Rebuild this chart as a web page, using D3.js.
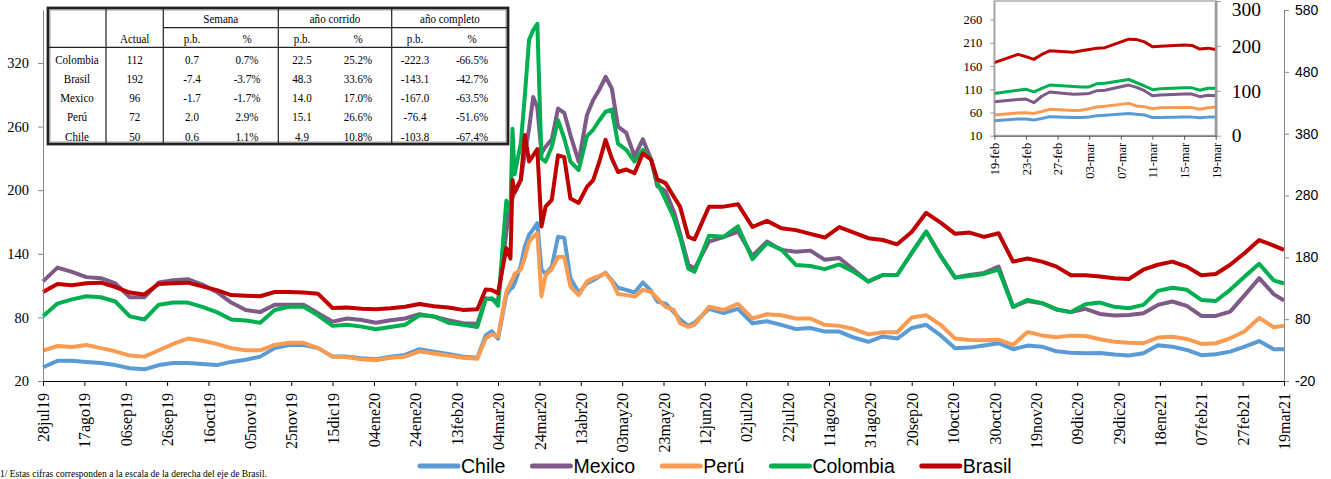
<!DOCTYPE html>
<html>
<head>
<meta charset="utf-8">
<script src="https://cdn.jsdelivr.net/npm/d3@7"></script>
<style>
  body { margin: 0; background: #fff; }
  svg { display: block; }
</style>
</head>
<body>
<svg id="chart" width="1331" height="479"></svg>
<script>
// ---- main chart data (bps), dates ----
const dates = [
  "2019-07-28","2019-08-04","2019-08-11","2019-08-18","2019-08-25","2019-09-01","2019-09-08","2019-09-15",
  "2019-09-22","2019-09-29","2019-10-06","2019-10-13","2019-10-20","2019-10-27","2019-11-03","2019-11-10",
  "2019-11-17","2019-11-24","2019-12-01","2019-12-08","2019-12-15","2019-12-22",
  "2019-12-29","2020-01-05","2020-01-12","2020-01-19","2020-01-26","2020-02-02","2020-02-09","2020-02-16","2020-02-23",
  "2020-02-27","2020-03-01","2020-03-04","2020-03-08","2020-03-10","2020-03-11","2020-03-12","2020-03-15",
  "2020-03-17","2020-03-19","2020-03-21","2020-03-23","2020-03-25","2020-03-27","2020-03-30","2020-04-02",
  "2020-04-05","2020-04-08","2020-04-12","2020-04-16","2020-04-19","2020-04-22","2020-04-25","2020-04-28",
  "2020-05-01","2020-05-05","2020-05-09","2020-05-13","2020-05-17","2020-05-20","2020-05-24","2020-05-28",
  "2020-05-31","2020-06-04","2020-06-07",
  "2020-06-14","2020-06-21","2020-06-28","2020-07-05","2020-07-12","2020-07-19","2020-07-26","2020-08-02",
  "2020-08-09","2020-08-16","2020-08-23","2020-08-30","2020-09-06","2020-09-13","2020-09-20","2020-09-27",
  "2020-10-04","2020-10-11","2020-10-18","2020-10-25","2020-11-01","2020-11-08","2020-11-15","2020-11-22",
  "2020-11-29","2020-12-06","2020-12-13","2020-12-20","2020-12-27","2021-01-03","2021-01-10","2021-01-17",
  "2021-01-24","2021-01-31","2021-02-07","2021-02-14","2021-02-21","2021-02-28","2021-03-07","2021-03-14",
  "2021-03-19"
];

const chile = [
  33, 39, 39, 38, 37, 35, 32, 31, 35, 37, 37, 36, 35, 38, 40, 43, 51, 54, 54, 51, 43, 43,
  41.4, 40.5, 43, 44.6, 50, 47.7, 45.5, 43, 42,
  63, 67, 60, 101, 107, 108, 112, 129, 147, 158, 163, 169, 125, 121, 128, 156, 155, 117, 103.5, 112,
  115, 118.5, 122, 115, 108, 106, 103.5, 113, 105, 95, 93, 85, 78, 72, 75,
  88, 84, 88, 74.5, 76.4, 73, 69, 70, 66.6, 66.6, 61, 57, 62, 60, 70, 73, 63, 51, 51.5, 53.4,
  55.6, 50, 53.4, 52.4, 48, 46.7, 46.2, 46.5, 45, 44, 46.2, 53.7, 52.4, 49.3, 44.3, 45.2, 47.7, 52.4, 57.7, 50,
  50
];
const mexico = [
  114, 127, 123, 118, 117, 112, 99, 99, 113, 115, 116, 111, 104, 94, 87, 85, 92, 92, 92, 84, 76, 79,
  77.6, 75, 77.3, 79, 83, 80.7, 77.3, 74.5, 74,
  98, 97, 95, 160, 188, 193, 198, 210, 235, 258, 288, 278, 235, 241, 248, 277, 273, 252, 227, 271,
  285, 295, 307, 296, 260, 254, 232, 248, 229, 204, 199, 180, 159, 130, 126,
  151.5, 155.7, 161, 138, 151.5, 143.7, 142, 143, 134.3, 136, 124.8, 113.8, 120, 120, 140.6, 161, 138, 117.6, 120, 122,
  128, 90, 95.5, 93.4, 87.5, 85, 88, 83.3, 81.7, 82.3, 84, 91.8, 95, 90.8, 81.4, 81.4, 85.4, 101, 117, 102,
  96
];
const peru = [
  48.6, 53, 52, 54, 51, 48, 44, 43, 49, 55, 60, 58, 55, 51, 49, 49, 54, 56, 56, 51, 43, 42.5,
  40.5, 39.5, 42, 43, 48, 46, 44, 42, 41,
  60, 64, 62, 104, 112, 116, 121, 125, 137, 151, 156, 159.5, 100, 120, 125.5, 137, 137, 109, 101, 114,
  117, 119, 122, 114, 102, 101, 99.6, 106, 104, 98, 90, 87, 74.5, 71, 73,
  90, 87, 92.7, 79, 83, 82, 79, 79, 73, 72, 69, 64, 66, 66, 80, 82, 73, 60, 58.7, 58.4,
  59, 54, 66.3, 63, 61.3, 62.8, 62.5, 59.4, 57, 56, 55.6, 61, 61.8, 59.7, 55, 55.6, 60.3, 67, 79.5, 70.7,
  72
];
const colombia = [
  81, 93, 97, 100, 99, 95, 81, 78, 92, 94, 94, 90, 85, 78, 77, 75, 87, 90, 90, 82, 72, 73,
  71.3, 68.8, 71, 73, 82, 81, 75, 73, 71,
  97, 98, 91, 190, 180, 258, 215, 244, 290, 342, 351, 357, 230, 227, 241, 266, 249, 227, 219, 251,
  257, 266, 274, 276, 244, 238, 227, 238, 229, 207, 191, 174, 156, 126, 123,
  157, 156, 166, 135, 150, 144, 129.5, 128.5, 125.5, 130, 123, 114, 120, 120, 141, 161, 138, 117.6, 119, 121,
  125, 90, 96.5, 93.4, 87.5, 85, 92.5, 94, 90, 88.7, 91.8, 105, 108, 106, 96.5, 95.5, 106, 118.5, 130.5, 115,
  112
];
// Brasil is read on the right-hand axis
const brasil = [
  124, 137, 135, 138, 139, 132, 123, 120, 137, 138, 139, 133, 127, 119, 118, 117, 124, 124, 123, 121, 98, 99,
  97, 96, 97.6, 100, 104.5, 101, 99, 95, 96,
  128, 127, 122, 195, 178, 305, 285, 305, 378, 335, 345, 355, 230, 262, 273, 345, 342, 275, 268, 294,
  305, 335, 370, 340, 318, 322, 316, 348, 338, 306, 300, 278, 262, 213, 209,
  262, 262, 266, 229, 239, 227, 224, 218, 212, 229, 220, 211, 208, 201, 221, 252, 236, 218, 220, 213,
  219, 173, 178, 173, 165, 151, 151, 149, 146, 145, 160, 168, 173, 165, 151, 153, 168, 187, 208, 199,
  192
];

const xLabels = ["28jul19","17ago19","06sep19","26sep19","16oct19","05nov19","25nov19","15dic19","04ene20",
  "24ene20","13feb20","04mar20","24mar20","13abr20","03may20","23may20","12jun20","02jul20","22jul20",
  "11ago20","31ago20","20sep20","10oct20","30oct20","19nov20","09dic20","29dic20","18ene21","07feb21",
  "27feb21","19mar21"];
const leftTicks = [20, 80, 140, 200, 260, 320];
const rightTicks = [-20, 80, 180, 280, 380, 480, 580];

// ---- inset (last month) ----
const insetDates = ["2021-02-19","2021-02-22","2021-02-23","2021-02-24","2021-02-25","2021-02-26",
  "2021-03-01","2021-03-02","2021-03-03","2021-03-04","2021-03-05","2021-03-08","2021-03-09","2021-03-10",
  "2021-03-11","2021-03-12","2021-03-15","2021-03-16","2021-03-17","2021-03-18","2021-03-19"];
const insetChile = [42, 46, 46, 44, 47, 51, 49, 49, 50.5, 53, 54, 58, 56, 54.5, 49, 49.4, 50, 50, 48.5, 50, 50];
const insetMexico = [83, 88, 89, 81, 95, 104, 99, 100, 101, 107, 108, 119, 114, 107, 96, 97.7, 100, 99.6, 94, 97, 96];
const insetPeru = [54.5, 59, 59.5, 58, 62, 66.7, 64, 65, 68, 72, 73.5, 79.6, 74, 72.3, 68, 70, 70.5, 70.5, 67, 70, 72];
const insetColombia = [101, 108, 110, 104.5, 112, 119, 116, 115, 115, 122, 123, 131, 124, 117, 109, 111.3, 113, 113, 108, 112, 112];
const insetBrasil = [162.6, 181, 176, 170, 181, 189, 186, 189, 192, 195, 196, 215, 214, 209, 198, 199.4, 202, 201, 193, 195, 192];
const insetXLabels = ["19-feb","23-feb","27-feb","03-mar","07-mar","11-mar","15-mar","19-mar"];
const insetLeftTicks = [10, 60, 110, 160, 210, 260];
const insetRightTicks = [0, 100, 200, 300];

// ---- table ----
const tableCountries = ["Colombia", "Brasil", "Mexico", "Perú", "Chile"];
const tableActual = [112, 192, 96, 72, 50];
const semanaPb = [0.7, -7.4, -1.7, 2.0, 0.6];
const semanaPct = [0.7, -3.7, -1.7, 2.9, 1.1];
const corridoPb = [22.5, 48.3, 14.0, 15.1, 4.9];
const corridoPct = [25.2, 33.6, 17.0, 26.6, 10.8];
const completoPb = [-222.3, -143.1, -167.0, -76.4, -103.8];
const completoPct = [-66.5, -42.7, -63.5, -51.6, -67.4];

const seriesNames = ["Chile", "Mexico", "Perú", "Colombia", "Brasil"];
const seriesColors = ["#5b9bd5", "#7d5a87", "#fa9b52", "#00b050", "#c00000"];

const serif = "'Liberation Serif', 'Times New Roman', serif";
const sans = "'Liberation Sans', Arial, sans-serif";

const parse = d3.timeParse("%Y-%m-%d");
const meses = {ene: 0, feb: 1, mar: 2, abr: 3, may: 4, jun: 5, jul: 6, ago: 7, sep: 8, oct: 9, nov: 10, dic: 11};
// "28jul19" -> date
const parseLabel = (s) => {
  const m = s.match(/^(\d\d)([a-z]+)(\d\d)$/);
  return new Date(2000 + (+m[3]), meses[m[2]], +m[1]);
};
// "19-feb" -> date (2021)
const parseInsetLabel = (s) => {
  const m = s.match(/^(\d\d)-([a-z]+)$/);
  return new Date(2021, meses[m[2]], +m[1]);
};
// plain hyphen for negatives, like the source
const plain = d => String(d);

const svg = d3.select("#chart");

// ---- main scales ----
const x = d3.scaleTime().domain([parse(dates[0]), parse(dates[dates.length - 1])]).range([43, 1284]);
const yL = d3.scaleLinear().domain([20, 370]).range([381, 10]);
const yR = d3.scaleLinear().domain([-20, 580]).range([381, 10]);

const mainValues = [chile, mexico, peru, colombia, brasil];
const parsedDates = dates.map(parse);

// lines (Chile drawn first, Brasil last/on top)
mainValues.forEach((vals, i) => {
  const yScale = seriesNames[i] === "Brasil" ? yR : yL;
  const line = d3.line()
    .x((d, j) => x(parsedDates[j]))
    .y(d => yScale(d));
  svg.append("path")
    .datum(vals)
    .attr("fill", "none")
    .attr("stroke", seriesColors[i])
    .attr("stroke-width", 4)
    .attr("stroke-linejoin", "round")
    .attr("d", line);
});

// left axis
const gL = svg.append("g").attr("transform", "translate(43,0)")
  .call(d3.axisLeft(yL).tickValues(leftTicks).tickFormat(plain).tickSizeInner(5).tickSizeOuter(0).tickPadding(9));
gL.select(".domain").attr("stroke", "#888");
gL.selectAll(".tick line").attr("stroke", "#888");
gL.selectAll("text").attr("font-family", serif).attr("font-size", 14.5).attr("fill", "#000");

// right axis (Brasil)
const gR = svg.append("g").attr("transform", "translate(1284,0)")
  .call(d3.axisRight(yR).tickValues(rightTicks).tickFormat(plain).tickSizeInner(5).tickSizeOuter(0).tickPadding(6));
gR.select(".domain").attr("stroke", "#888");
gR.selectAll(".tick line").attr("stroke", "#888");
gR.selectAll("text").attr("font-family", sans).attr("font-size", 14).attr("fill", "#000");

// bottom axis
const tickDates = xLabels.map(parseLabel);
const gB = svg.append("g").attr("transform", "translate(0,381)")
  .call(d3.axisBottom(x).tickValues(tickDates).tickFormat((d, i) => xLabels[i]).tickSizeInner(5).tickSizeOuter(0));
gB.select(".domain").attr("stroke", "#000");
gB.selectAll(".tick line").attr("stroke", "#000");
gB.selectAll("text")
  .attr("font-family", serif)
  .attr("font-size", 16)
  .attr("fill", "#000")
  .attr("transform", "rotate(-90)")
  .attr("text-anchor", "end")
  .attr("x", -12)
  .attr("y", 0)
  .attr("dy", "0.35em");

// ---- legend ----
const legend = svg.append("g").attr("font-family", sans).attr("font-size", 19.5);
let lx = 420;
seriesNames.forEach((name, i) => {
  legend.append("line")
    .attr("x1", lx).attr("x2", lx + 38)
    .attr("y1", 466).attr("y2", 466)
    .attr("stroke", seriesColors[i]).attr("stroke-width", 5).attr("stroke-linecap", "round");
  const t = legend.append("text")
    .attr("x", lx + 41).attr("y", 466).attr("dy", "0.35em")
    .attr("fill", "#000")
    .text(name);
  lx += 41 + t.node().getComputedTextLength() + 27;
});

// footnote at the very bottom
svg.append("text")
  .attr("x", 0).attr("y", 476.5)
  .attr("font-family", serif).attr("font-size", 9.5)
  .text("1/ Estas cifras corresponden a la escala de la derecha del eje de Brasil.");

// ---- inset ----
const inset = svg.append("g");
inset.append("rect").attr("x", 952).attr("y", 0).attr("width", 318).attr("height", 186).attr("fill", "#fff");

const ix = d3.scaleTime().domain([parse(insetDates[0]), parse(insetDates[insetDates.length - 1])]).range([994.3, 1215.7]);
const iyL = d3.scaleLinear().domain([10, 300]).range([135.7, 1]);
const iyR = d3.scaleLinear().domain([0, 300]).range([135.7, 1]);
const insetParsed = insetDates.map(parse);
const insetValues = [insetChile, insetMexico, insetPeru, insetColombia, insetBrasil];

inset.append("rect")
  .attr("x", 994.3).attr("y", 1).attr("width", 221.4).attr("height", 134.7)
  .attr("fill", "none").attr("stroke", "#c0c0c0").attr("stroke-width", 2);

insetValues.forEach((vals, i) => {
  const yScale = seriesNames[i] === "Brasil" ? iyR : iyL;
  inset.append("path")
    .datum(vals)
    .attr("fill", "none")
    .attr("stroke", seriesColors[i])
    .attr("stroke-width", 3)
    .attr("stroke-linejoin", "round")
    .attr("d", d3.line().x((d, j) => ix(insetParsed[j])).y(d => yScale(d)));
});

const igL = inset.append("g").attr("transform", "translate(994.3,0)")
  .call(d3.axisLeft(iyL).tickValues(insetLeftTicks).tickFormat(plain).tickSizeInner(4).tickSizeOuter(0).tickPadding(8));
igL.select(".domain").attr("stroke", "#999");
igL.selectAll(".tick line").attr("stroke", "#999");
igL.selectAll("text").attr("font-family", serif).attr("font-size", 12.5).attr("fill", "#000");

const igR = inset.append("g").attr("transform", "translate(1215.7,0)")
  .call(d3.axisRight(iyR).tickValues(insetRightTicks).tickFormat(plain).tickSizeInner(5).tickSizeOuter(0).tickPadding(11));
igR.select(".domain").attr("stroke", "#999").attr("stroke-width", 2.5);
igR.selectAll(".tick line").attr("stroke", "#999");
igR.selectAll("text").attr("font-family", serif).attr("font-size", 19.5).attr("fill", "#000");
// the top label sits at the frame edge; nudge it inside
igR.selectAll("text").filter(d => d === 300).attr("dy", "0.75em");

const igB = inset.append("g").attr("transform", "translate(0,135.7)")
  .call(d3.axisBottom(ix).tickValues(insetXLabels.map(parseInsetLabel))
    .tickFormat((d, i) => insetXLabels[i]).tickSizeInner(4).tickSizeOuter(0));
igB.select(".domain").attr("stroke", "#555");
igB.selectAll(".tick line").attr("stroke", "#555");
igB.selectAll("text")
  .attr("font-family", serif)
  .attr("font-size", 12.5)
  .attr("fill", "#000")
  .attr("transform", "rotate(-90)")
  .attr("text-anchor", "end")
  .attr("x", -7)
  .attr("y", 0)
  .attr("dy", "0.35em");

// ---- summary table ----
const table = svg.append("g").attr("font-family", serif).attr("font-size", 13);
table.append("rect").attr("x", 48).attr("y", 8).attr("width", 460).attr("height", 136)
  .attr("fill", "#fff").attr("stroke", "#222").attr("stroke-width", 2.8);
table.append("rect").attr("x", 50).attr("y", 10).attr("width", 456).attr("height", 132)
  .attr("fill", "none").attr("stroke", "#888").attr("stroke-width", 0.8);

const colEdges = [48, 106, 163.3, 278.3, 391.7, 508];
[106, 163.3, 278.3, 391.7].forEach(cx => {
  table.append("line").attr("x1", cx).attr("x2", cx).attr("y1", 9).attr("y2", 143)
    .attr("stroke", "#222").attr("stroke-width", 1.2);
});
table.append("line").attr("x1", 163.3).attr("x2", 507).attr("y1", 27.7).attr("y2", 27.7)
  .attr("stroke", "#222").attr("stroke-width", 1.2);
table.append("line").attr("x1", 49).attr("x2", 507).attr("y1", 47.3).attr("y2", 47.3)
  .attr("stroke", "#222").attr("stroke-width", 1.2);

// narrow text like the original
const cell = (txt, cx, cy) => {
  table.append("text")
    .attr("transform", `translate(${cx},${cy}) scale(0.85,1)`)
    .attr("text-anchor", "middle")
    .attr("dy", "0.35em")
    .attr("fill", "#000")
    .text(txt);
};

const subCenters = [77, 134.7, 192, 247, 302, 358, 415, 472];
cell("Semana", (colEdges[2] + colEdges[3]) / 2, 18);
cell("año corrido", (colEdges[3] + colEdges[4]) / 2, 18);
cell("año completo", (colEdges[4] + colEdges[5]) / 2, 18);
["Actual", "p.b.", "%", "p.b.", "%", "p.b.", "%"].forEach((h, i) => cell(h, subCenters[i + 1], 38));

const f1 = v => v.toFixed(1);
const rowY = [59, 78.3, 97.5, 116.8, 136];
tableCountries.forEach((c, r) => {
  const row = [c, tableActual[r], f1(semanaPb[r]), f1(semanaPct[r]) + "%", f1(corridoPb[r]), f1(corridoPct[r]) + "%",
    f1(completoPb[r]), f1(completoPct[r]) + "%"];
  row.forEach((v, i) => cell(v, subCenters[i], rowY[r]));
});
</script>
</body>
</html>
